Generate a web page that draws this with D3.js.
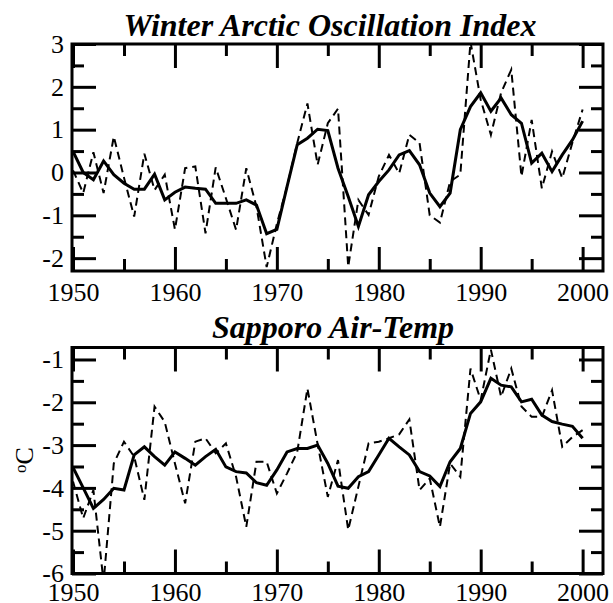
<!DOCTYPE html>
<html>
<head>
<meta charset="utf-8">
<script src="https://cdn.jsdelivr.net/npm/d3@7"></script>
<style>
  html, body { margin: 0; padding: 0; background: #fff; }
  svg { display: block; }
  text { font-family: "Liberation Serif", "Times New Roman", serif; fill: #000; }
</style>
</head>
<body>
<svg id="chart" width="613" height="603"></svg>
<script>
// ── Data ──────────────────────────────────────────────────────────────────────
const years = d3.range(1950, 2001);

// Winter Arctic Oscillation index: annual (dashed) and smoothed (solid)
const aoAnnual = [
   0.05, -0.48,  0.47, -0.48,  0.84, -0.12, -1.03,  0.44, -0.41, -0.05,
  -1.33,  0.10,  0.14, -1.42,  0.12, -0.60, -1.34,  0.10, -0.80, -2.21,
  -1.20, -0.33,  0.69,  1.61,  0.18,  1.15,  1.49, -2.20, -0.64, -0.99,
  -0.09,  0.41, -0.02,  0.88,  0.69, -1.00, -1.17, -0.21, -0.05,  3.05,
   1.70,  0.88,  1.86,  2.40, -0.09,  1.23, -0.37,  0.49, -0.13,  0.70,
   1.47
];
const aoSmooth = [
   0.49,  0.00, -0.17,  0.27, -0.05, -0.25, -0.39, -0.39, -0.04, -0.64,
  -0.46, -0.34, -0.37, -0.39, -0.72, -0.72, -0.72, -0.64, -0.76, -1.43,
  -1.33, -0.33,  0.65,  0.80,  1.01,  0.98,  0.10, -0.56, -1.26, -0.52,
  -0.21,  0.06,  0.41,  0.51,  0.18, -0.48, -0.80, -0.48,  1.00,  1.54,
   1.86,  1.43,  1.74,  1.35,  1.15,  0.22,  0.45,  0.02,  0.41,  0.76,
   1.20
];

// Sapporo winter air temperature (°C): annual (dashed) and smoothed (solid)
const tempAnnual = [
  -3.85, -4.71, -4.05, -6.20, -3.43, -2.92, -3.27, -4.28, -2.10, -2.46,
  -3.43, -4.36, -2.92, -2.84, -3.19, -2.96, -3.74, -4.91, -3.39, -3.39,
  -4.13, -3.66, -3.16, -1.68, -2.98, -4.21, -3.35, -4.98, -3.97, -2.96,
  -2.92, -2.84, -2.75, -2.40, -4.05, -3.78, -4.91, -3.43, -3.74, -1.21,
  -1.95, -0.77, -1.87, -1.21, -2.10, -2.34, -2.34, -1.72, -3.04, -2.81,
  -2.65
];
const tempSmooth = [
  -3.52, -4.00, -4.48, -4.27, -4.01, -4.05, -3.23, -3.04, -3.27, -3.47,
  -3.16, -3.31, -3.47, -3.27, -3.10, -3.51, -3.62, -3.65, -3.88, -3.94,
  -3.58, -3.16, -3.08, -3.08, -3.00, -3.43, -3.96, -4.01, -3.74, -3.62,
  -3.23, -2.84, -3.04, -3.23, -3.62, -3.72, -3.97, -3.39, -3.08, -2.26,
  -1.99, -1.44, -1.60, -1.64, -1.99, -1.93, -2.30, -2.45, -2.51, -2.56,
  -2.84
];

// Tick values
const yearMajor = [1950, 1960, 1970, 1980, 1990, 2000];
const yearMinor = [1955, 1965, 1975, 1985, 1995];
const aoMajor   = [-2, -1, 0, 1, 2, 3];
const aoMinor   = [-1.5, -0.5, 0.5, 1.5, 2.5];
const tempMajor = [-6, -5, -4, -3, -2, -1];
const tempMinor = [-5.5, -4.5, -3.5, -2.5, -1.5];

// ── Layout ────────────────────────────────────────────────────────────────────
const LEFT = 72, RIGHT = 603;
const MAJOR_LEN = 24, MINOR_LEN = 12;
const FONT = 26;

const svg = d3.select('#chart');
const x = d3.scaleLinear().domain([1949.9, 2002]).range([LEFT, RIGHT]);

const panels = [
  { id: 'ao', top: 44, bottom: 271, domain: [-2.3, 3],
    title: 'Winter Arctic Oscillation Index', titleX: 330, titleY: 36,
    annual: aoAnnual, smooth: aoSmooth, major: aoMajor, minor: aoMinor, labelPad: 12 },
  { id: 'temp', top: 347.5, bottom: 573.5, domain: [-6, -0.72],
    title: 'Sapporo Air-Temp', titleX: 333, titleY: 338,
    annual: tempAnnual, smooth: tempSmooth, major: tempMajor, minor: tempMinor, labelPad: 9 },
];

function styleAxis(g) {
  g.select('.domain').remove();
  g.selectAll('.tick line').attr('stroke', '#000').attr('stroke-width', 3);
  g.selectAll('.tick text')
    .style('font-family', '"Liberation Serif", "Times New Roman", serif')
    .style('font-size', FONT + 'px')
    .attr('fill', '#000');
}

panels.forEach(p => {
  const y = d3.scaleLinear().domain(p.domain).range([p.bottom, p.top]);
  const g = svg.append('g');

  g.append('clipPath').attr('id', 'clip-' + p.id)
    .append('rect')
    .attr('x', LEFT).attr('y', p.top)
    .attr('width', RIGHT - LEFT).attr('height', p.bottom - p.top);

  const line = vals => d3.line()
    .x((d, i) => x(years[i]))
    .y(d => y(d))(vals);

  const plot = g.append('g').attr('clip-path', `url(#clip-${p.id})`);
  plot.append('path')
    .attr('d', line(p.annual))
    .attr('fill', 'none').attr('stroke', '#000')
    .attr('stroke-width', 2).attr('stroke-dasharray', '8,5');
  plot.append('path')
    .attr('d', line(p.smooth))
    .attr('fill', 'none').attr('stroke', '#000')
    .attr('stroke-width', 3).attr('stroke-linejoin', 'miter');

  // bottom axis (labels) + minor
  g.append('g').attr('transform', `translate(0,${p.bottom})`)
    .call(d3.axisBottom(x).tickValues(yearMajor).tickFormat(d3.format('d'))
      .tickSize(-MAJOR_LEN).tickPadding(p.labelPad))
    .call(styleAxis);
  g.append('g').attr('transform', `translate(0,${p.bottom})`)
    .call(d3.axisBottom(x).tickValues(yearMinor).tickFormat('').tickSize(-MINOR_LEN))
    .call(styleAxis);
  // top axis
  g.append('g').attr('transform', `translate(0,${p.top})`)
    .call(d3.axisTop(x).tickValues(yearMajor).tickFormat('').tickSize(-MAJOR_LEN))
    .call(styleAxis);
  g.append('g').attr('transform', `translate(0,${p.top})`)
    .call(d3.axisTop(x).tickValues(yearMinor).tickFormat('').tickSize(-MINOR_LEN))
    .call(styleAxis);
  // left axis (labels)
  g.append('g').attr('transform', `translate(${LEFT},0)`)
    .call(d3.axisLeft(y).tickValues(p.major).tickFormat(d3.format('d'))
      .tickSize(-MAJOR_LEN).tickPadding(8))
    .call(styleAxis);
  g.append('g').attr('transform', `translate(${LEFT},0)`)
    .call(d3.axisLeft(y).tickValues(p.minor).tickFormat('').tickSize(-MINOR_LEN))
    .call(styleAxis);
  // right axis
  g.append('g').attr('transform', `translate(${RIGHT},0)`)
    .call(d3.axisRight(y).tickValues(p.major).tickFormat('').tickSize(-MAJOR_LEN))
    .call(styleAxis);
  g.append('g').attr('transform', `translate(${RIGHT},0)`)
    .call(d3.axisRight(y).tickValues(p.minor).tickFormat('').tickSize(-MINOR_LEN))
    .call(styleAxis);

  // hyphen-minus for negative labels, as in the original
  g.selectAll('.tick text').text(function() { return this.textContent.replace('\u2212', '-'); });

  // frame
  g.append('rect')
    .attr('x', LEFT).attr('y', p.top)
    .attr('width', RIGHT - LEFT).attr('height', p.bottom - p.top)
    .attr('fill', 'none').attr('stroke', '#000').attr('stroke-width', 3);

  // title
  g.append('text')
    .attr('x', p.titleX).attr('y', p.titleY)
    .attr('text-anchor', 'middle')
    .style('font-size', '32px').style('font-weight', 'bold').style('font-style', 'italic')
    .text(p.title);
});

// y label of the lower panel
const yl = svg.append('text')
  .attr('transform', 'translate(33,460) rotate(-90)')
  .attr('text-anchor', 'middle')
  .style('font-size', FONT + 'px');
yl.append('tspan').attr('baseline-shift', '40%').style('font-size', '17px').text('o');
yl.append('tspan').text('C');
</script>
</body>
</html>
